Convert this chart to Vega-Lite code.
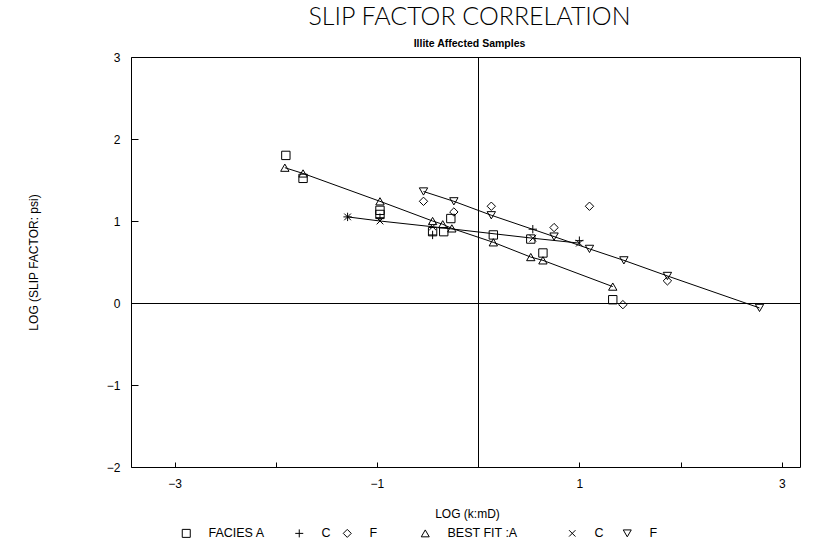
{
  "$schema": "https://vega.github.io/schema/vega-lite/v6.json",
  "width": 669,
  "height": 410,
  "autosize": {"type": "none"},
  "padding": {"left": 131, "top": 57, "right": 17, "bottom": 76},
  "background": "white",
  "config": {
    "view": {"stroke": "black", "strokeWidth": 1},
    "font": "Liberation Sans",
    "axis": {"grid": false, "domain": false, "tickColor": "black", "labelColor": "black", "titleColor": "black", "labelFont": "Liberation Sans", "titleFont": "Liberation Sans", "titleFontWeight": "normal", "labelFontSize": 12, "titleFontSize": 12, "format": "d"}
  },
  "title": {
    "text": "SLIP FACTOR CORRELATION",
    "subtitle": "Illite Affected Samples",
    "anchor": "middle",
    "dx": 4,
    "font": "Lato",
    "fontSize": 25,
    "fontWeight": 300,
    "letterSpacing": 5,
    "color": "black",
    "subtitleFont": "Liberation Sans",
    "subtitleFontSize": 10.5,
    "subtitleFontWeight": "bold",
    "subtitleColor": "black",
    "subtitlePadding": 9,
    "offset": 2
  },
  "data": {
    "values": [
      {"s": "A", "x": -1.90, "y": 1.80},
      {"s": "A", "x": -1.73, "y": 1.52},
      {"s": "A", "x": -0.97, "y": 1.13},
      {"s": "A", "x": -0.97, "y": 1.08},
      {"s": "A", "x": -0.45, "y": 0.87},
      {"s": "A", "x": -0.34, "y": 0.87},
      {"s": "A", "x": -0.27, "y": 1.03},
      {"s": "A", "x": 0.15, "y": 0.83},
      {"s": "A", "x": 0.52, "y": 0.78},
      {"s": "A", "x": 0.64, "y": 0.61},
      {"s": "A", "x": 1.33, "y": 0.04},
      {"s": "C", "x": -1.29, "y": 1.05},
      {"s": "C", "x": -0.97, "y": 1.04},
      {"s": "C", "x": -0.45, "y": 0.83},
      {"s": "C", "x": 0.54, "y": 0.90},
      {"s": "C", "x": 1.00, "y": 0.76},
      {"s": "F", "x": -0.54, "y": 1.24},
      {"s": "F", "x": -0.24, "y": 1.11},
      {"s": "F", "x": 0.13, "y": 1.18},
      {"s": "F", "x": 0.75, "y": 0.92},
      {"s": "F", "x": 1.10, "y": 1.18},
      {"s": "F", "x": 1.43, "y": -0.02},
      {"s": "F", "x": 1.87, "y": 0.27},
      {"s": "fitA", "x": -1.91, "y": 1.65},
      {"s": "fitA", "x": -1.73, "y": 1.58},
      {"s": "fitA", "x": -0.97, "y": 1.24},
      {"s": "fitA", "x": -0.45, "y": 1.00},
      {"s": "fitA", "x": -0.35, "y": 0.96},
      {"s": "fitA", "x": -0.26, "y": 0.91},
      {"s": "fitA", "x": 0.15, "y": 0.74},
      {"s": "fitA", "x": 0.52, "y": 0.56},
      {"s": "fitA", "x": 0.64, "y": 0.52},
      {"s": "fitA", "x": 1.33, "y": 0.20},
      {"s": "fitC", "x": -1.29, "y": 1.05},
      {"s": "fitC", "x": -0.97, "y": 1.00},
      {"s": "fitC", "x": -0.45, "y": 0.93},
      {"s": "fitC", "x": 0.54, "y": 0.79},
      {"s": "fitC", "x": 1.00, "y": 0.73},
      {"s": "fitF", "x": -0.54, "y": 1.36},
      {"s": "fitF", "x": -0.24, "y": 1.24},
      {"s": "fitF", "x": 0.13, "y": 1.07},
      {"s": "fitF", "x": 0.75, "y": 0.81},
      {"s": "fitF", "x": 1.10, "y": 0.66},
      {"s": "fitF", "x": 1.44, "y": 0.52},
      {"s": "fitF", "x": 1.87, "y": 0.33},
      {"s": "fitF", "x": 2.78, "y": -0.06}
    ]
  },
  "layer": [
    {
      "mark": {"type": "rule", "color": "black", "strokeWidth": 1, "xOffset": 0.35},
      "encoding": {"x": {"datum": 0, "type": "quantitative"}}
    },
    {
      "mark": {"type": "rule", "color": "black", "strokeWidth": 1, "yOffset": 0.5},
      "encoding": {"y": {"datum": 0, "type": "quantitative"}}
    },
    {
      "transform": [{"filter": {"field": "s", "oneOf": ["fitA", "fitC", "fitF"]}}],
      "mark": {"type": "line", "color": "black", "strokeWidth": 1},
      "encoding": {
        "x": {"field": "x", "type": "quantitative"},
        "y": {"field": "y", "type": "quantitative"},
        "detail": {"field": "s", "type": "nominal"}
      }
    },
    {
      "mark": {"type": "point", "filled": false, "color": "black", "strokeWidth": 1, "size": 70, "opacity": 1},
      "encoding": {
        "x": {
          "field": "x", "type": "quantitative",
          "scale": {"domain": [-3.43, 3.18], "nice": false, "zero": false},
          "axis": {
            "values": [-3, -2, -1, 0, 1, 2, 3],
            "labelExpr": "datum.value % 2 == 0 ? '' : datum.label",
            "tickSize": -5,
            "labelPadding": 16,
            "title": "LOG (k:mD)",
            "titleX": 336,
            "titleY": 46,
            "titleBaseline": "middle",
            "titleLetterSpacing": 1.5
          }
        },
        "y": {
          "field": "y", "type": "quantitative",
          "scale": {"domain": [-2, 3], "nice": false, "zero": false},
          "axis": {
            "values": [-2, -1, 0, 1, 2, 3],
            "tickSize": -7,
            "labelPadding": 18,
            "title": "LOG (SLIP FACTOR: psi)",
            "titleX": -91,
            "titleLetterSpacing": 2.5
          }
        },
        "shape": {
          "field": "s", "type": "nominal",
          "scale": {
            "domain": ["A", "C", "F", "fitA", "fitC", "fitF"],
            "range": ["square", "M-1,0L1,0M0,-1L0,1", "diamond", "triangle-up", "M-0.8,-0.8L0.8,0.8M-0.8,0.8L0.8,-0.8", "triangle-down"]
          },
          "legend": {
            "orient": "none",
            "legendX": 49,
            "legendY": 470,
            "direction": "horizontal",
            "columns": 6,
            "title": null,
            "symbolSize": 64,
            "symbolStrokeWidth": 1,
            "symbolStrokeColor": "black",
            "symbolFillColor": "transparent",
            "labelFontSize": 12.5,
            "labelColor": "black",
            "labelOffset": 16,
            "columnPadding": 10,
            "labelExpr": "datum.value == 'A' ? 'FACIES A\u00a0\u00a0\u00a0\u00a0\u00a0\u200b' : datum.value == 'C' ? 'C' : datum.value == 'F' ? 'F\u00a0\u00a0\u00a0\u00a0\u00a0\u00a0\u00a0\u00a0\u00a0\u200b' : datum.value == 'fitA' ? 'BEST FIT :A\u00a0\u00a0\u00a0\u00a0\u00a0\u00a0\u00a0\u00a0\u00a0\u00a0\u00a0\u200b' : datum.value == 'fitC' ? 'C\u00a0\u00a0\u200b' : 'F'"
          }
        }
      }
    }
  ]
}
